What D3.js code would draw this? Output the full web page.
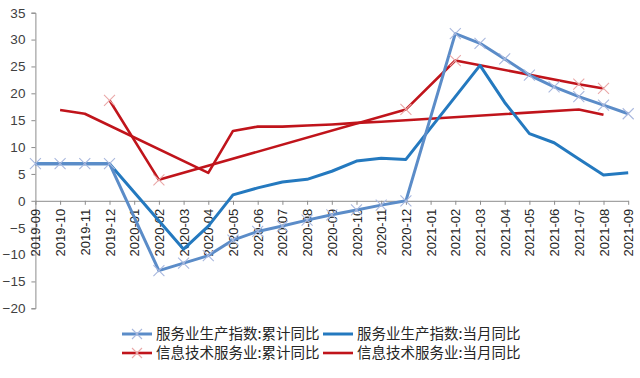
<!DOCTYPE html>
<html><head><meta charset="utf-8">
<script src="https://cdn.jsdelivr.net/npm/d3@7"></script>
<style>
html,body{margin:0;padding:0;background:#fff;}
svg{display:block;}
</style></head>
<body>
<svg id="chart" width="640" height="378"></svg>
<script>
const categories = ["2019-09","2019-10","2019-11","2019-12","2020-01","2020-02","2020-03","2020-04","2020-05","2020-06","2020-07","2020-08","2020-09","2020-10","2020-11","2020-12","2021-01","2021-02","2021-03","2021-04","2021-05","2021-06","2021-07","2021-08","2021-09"];
const svcCum = [6.9,6.9,6.9,6.9,null,-13.0,-11.6,-10.2,-7.3,-5.7,-4.7,-3.6,-2.6,-1.7,-0.8,0.0,null,31.1,29.3,26.4,23.4,21.2,19.4,17.8,16.2];
const svcMon = [6.9,6.9,6.9,6.9,null,null,-9.0,-4.7,1.1,2.4,3.5,4.0,5.5,7.4,7.9,7.7,null,null,25.2,18.3,12.5,10.8,7.8,4.8,5.2];
const itCum = [null,null,null,18.7,null,3.9,null,null,null,null,null,null,null,null,null,17.0,null,26.1,null,null,null,null,21.7,20.9,null];
const itMon = [null,16.9,16.2,null,null,null,null,5.2,13.0,13.8,13.8,14.0,14.2,14.5,14.7,15.0,null,null,null,null,null,null,17.0,16.0,null];
const yTicks = [35,30,25,20,15,10,5,0,-5,-10,-15,-20];
const seriesNames = ["服务业生产指数:累计同比","服务业生产指数:当月同比","信息技术服务业:累计同比","信息技术服务业:当月同比"];

const svg = d3.select("#chart");
const x = d3.scalePoint().domain(categories).range([35.4, 628.2]);
const y = d3.scaleLinear().domain([-20, 35]).range([308.3, 12.7]);

const axisColor = "#8c8c8c";
const latin = "'Liberation Sans', Arial, sans-serif";
const cjk = "'Noto Sans CJK SC', sans-serif";

// Y axis
const yAxis = svg.append("g").attr("transform", "translate(35.4,0)")
  .call(d3.axisLeft(y).tickValues(yTicks).tickSize(4).tickPadding(6));
yAxis.select(".domain").attr("stroke", axisColor);
yAxis.selectAll(".tick line").attr("stroke", axisColor);
yAxis.selectAll(".tick text").attr("font-family", latin).attr("font-size", 13.5).attr("fill", "#404040");

// X axis at y=0
const xAxis = svg.append("g").attr("transform", `translate(0,${y(0)})`)
  .call(d3.axisBottom(x).tickSize(4).tickSizeOuter(0));
xAxis.select(".domain").attr("stroke", axisColor);
xAxis.selectAll(".tick line").attr("stroke", axisColor);
xAxis.selectAll(".tick text")
  .attr("font-family", latin).attr("font-size", 13).attr("fill", "#262626")
  .attr("transform", "rotate(-90)")
  .attr("text-anchor", "end")
  .attr("x", -8).attr("y", 0).attr("dy", "0.35em");

const styles = [
  {data: svcCum, color: "#5B8CC8", width: 3, marker: "#a9b8de"},
  {data: svcMon, color: "#2479BF", width: 3, marker: null},
  {data: itCum, color: "#C0141B", width: 2.6, marker: "#eaa8a8"},
  {data: itMon, color: "#C0141B", width: 2.6, marker: null}
];

const line = d3.line().x(d => x(d.c)).y(d => y(d.v));
const order = [3, 2, 1, 0];
order.forEach(i => {
  const s = styles[i];
  const pts = categories.map((c, k) => ({c, v: s.data[k]})).filter(d => d.v !== null);
  svg.append("path").datum(pts).attr("d", line)
    .attr("fill", "none").attr("stroke", s.color).attr("stroke-width", s.width)
    .attr("stroke-linejoin", "round");
});
[0, 2].forEach(i => {
  const s = styles[i];
  const pts = categories.map((c, k) => ({c, v: s.data[k]})).filter(d => d.v !== null);
  const g = svg.append("g");
  pts.forEach(d => {
    const cx = x(d.c), cy = y(d.v), r = 5.5;
    g.append("path").attr("d", `M${cx-r},${cy-r}L${cx+r},${cy+r}M${cx-r},${cy+r}L${cx+r},${cy-r}`)
      .attr("stroke", s.marker).attr("stroke-width", 1.1).attr("fill", "none");
  });
});

// Legend
const legendPos = [[122, 334], [323, 334], [122, 353], [323, 353]];
seriesNames.forEach((name, i) => {
  const [lx, ly] = legendPos[i];
  const s = styles[i];
  svg.append("line").attr("x1", lx).attr("x2", lx + 30).attr("y1", ly).attr("y2", ly)
    .attr("stroke", s.color).attr("stroke-width", s.width);
  if (s.marker) {
    const cx = lx + 15, r = 5;
    svg.append("path").attr("d", `M${cx-r},${ly-r}L${cx+r},${ly+r}M${cx-r},${ly+r}L${cx+r},${ly-r}`)
      .attr("stroke", s.marker).attr("stroke-width", 1.1);
  }
  svg.append("text").attr("x", lx + 34).attr("y", ly).attr("dy", "0.35em")
    .attr("font-family", cjk).attr("font-size", 14.5).attr("fill", "#262626")
    .text(name);
});
</script>
</body></html>
